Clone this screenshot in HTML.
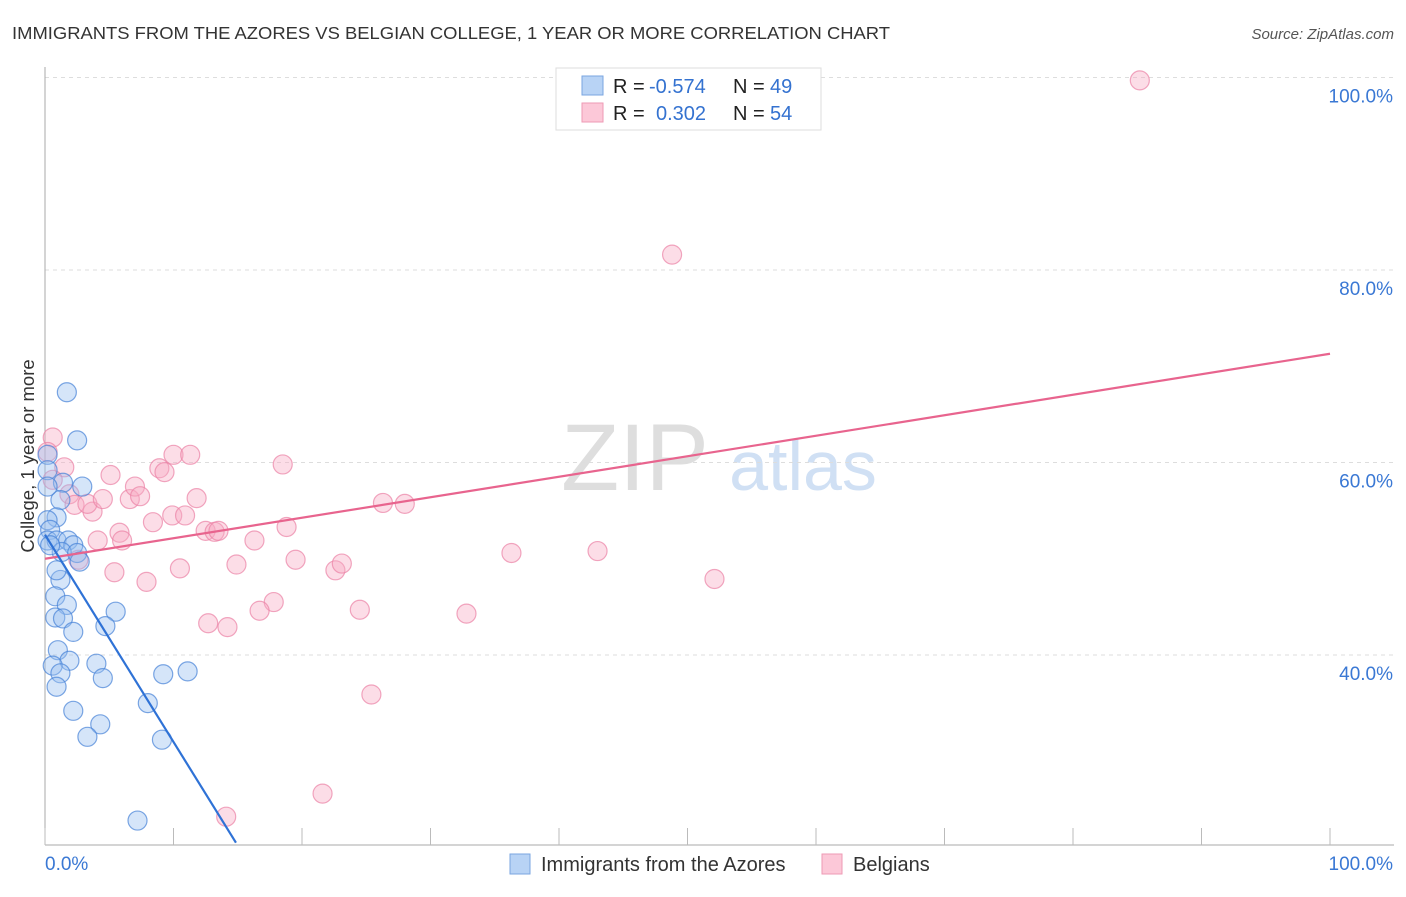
<!DOCTYPE html>
<html><head><meta charset="utf-8"><style>
body{margin:0;background:#fff;font-family:"Liberation Sans",sans-serif;}
svg text{font-family:"Liberation Sans",sans-serif;}
</style></head><body>
<svg id="chart" width="1406" height="892" viewBox="0 0 1406 892" xmlns="http://www.w3.org/2000/svg">
<text x="12" y="39" font-size="17.5" fill="#333" textLength="878" lengthAdjust="spacingAndGlyphs">IMMIGRANTS FROM THE AZORES VS BELGIAN COLLEGE, 1 YEAR OR MORE CORRELATION CHART</text>
<text x="1394" y="39" font-size="15" fill="#555" font-style="italic" text-anchor="end">Source: ZipAtlas.com</text>
<g>
<text x="635" y="490" font-size="95" fill="#dedede" font-family="Liberation Serif" text-anchor="middle">ZIP</text>
<text x="803" y="490" font-size="70" fill="#d0e0f4" text-anchor="middle">atlas</text>
</g>
<g id="grid"></g>
<g id="axes"></g>
<g id="points"></g>
<g id="lines"></g>
<text transform="translate(34,456) rotate(-90)" font-size="18.5" fill="#333" text-anchor="middle">College, 1 year or more</text>
<g>
<rect x="556" y="68" width="265" height="62" fill="#fff" stroke="#ddd"/>
<rect x="582" y="76" width="21" height="19" fill="#b8d3f5" stroke="#7aa6e0"/>
<rect x="582" y="103" width="21" height="19" fill="#fcc8d8" stroke="#ee9ab4"/>
<text x="613" y="93" font-size="20" fill="#222">R = </text><text x="649" y="93" font-size="20" fill="#3472d0">-0.574</text>
<text x="733" y="93" font-size="20" fill="#222">N = </text><text x="770" y="93" font-size="20" fill="#3472d0">49</text>
<text x="613" y="120" font-size="20" fill="#222">R = </text><text x="656" y="120" font-size="20" fill="#3472d0">0.302</text>
<text x="733" y="120" font-size="20" fill="#222">N = </text><text x="770" y="120" font-size="20" fill="#3472d0">54</text>
</g>
<g>
<rect x="510" y="854" width="20" height="20" fill="#b8d3f5" stroke="#7aa6e0"/>
<text x="541" y="871" font-size="20" fill="#333">Immigrants from the Azores</text>
<rect x="822" y="854" width="20" height="20" fill="#fcc8d8" stroke="#ee9ab4"/>
<text x="853" y="871" font-size="20" fill="#333">Belgians</text>
</g>
</svg>
<script>
const yTicks=[40,60,80,100];
const xTickLabels=["0.0%","100.0%"];
const blueX=[1.7,2.5,0.2,0.2,1.4,2.9,1.2,0.2,0.9,0.2,0.4,0.2,0.9,1.8,2.2,1.3,2.5,2.7,1.2,0.8,1.7,0.8,1.4,2.2,5.5,4.7,1.0,1.9,4.0,0.6,1.2,4.5,9.2,11.1,0.9,8.0,2.2,4.3,3.3,9.1,7.2,0.4,0.9];
const blueY=[67.3,62.3,60.8,59.2,57.9,57.5,56.1,57.5,54.3,54.0,53.0,51.9,51.9,51.9,51.4,50.7,50.6,49.7,47.8,46.1,45.2,43.9,43.8,42.4,44.5,43.0,40.5,39.4,39.1,38.9,38.1,37.6,38.0,38.3,36.7,35.0,34.2,32.8,31.5,31.2,22.8,51.4,48.8];
const pinkX=[85.2,48.8,0.6,0.2,1.5,0.6,1.9,2.3,3.7,3.3,4.5,5.1,6.6,7.0,7.4,8.9,9.3,10.0,11.3,11.8,8.4,9.9,10.9,12.5,13.2,13.5,5.8,6.0,4.1,16.3,18.5,18.8,14.9,10.5,7.9,5.4,19.5,22.6,23.1,36.3,43.0,52.1,26.3,28.0,17.8,16.7,12.7,14.2,24.5,32.8,25.4,21.6,14.1,2.6];
const pinkY=[99.7,81.6,62.6,61.1,59.5,58.2,56.7,55.6,54.9,55.7,56.2,58.7,56.2,57.5,56.5,59.4,59.0,60.8,60.8,56.3,53.8,54.5,54.5,52.9,52.8,52.9,52.7,51.9,51.9,51.9,59.8,53.3,49.4,49.0,47.6,48.6,49.9,48.8,49.5,50.6,50.8,47.9,55.8,55.7,45.5,44.6,43.3,42.9,44.7,44.3,35.9,25.6,23.2,49.9];
const blueLine=[[0,52.5],[14.86,20.5]];
const pinkLine=[[0,50.0],[100,71.3]];
const NS="http://www.w3.org/2000/svg";
const sx=v=>45+v*12.85;
const sy=v=>1040-v*9.625;
function mk(t,a,p){const e=document.createElementNS(NS,t);for(const k in a)e.setAttribute(k,a[k]);document.getElementById(p).appendChild(e);return e;}
yTicks.forEach(t=>{
 const l=mk('line',{x1:45,x2:1394,y1:sy(t),y2:sy(t),stroke:'#ddd','stroke-dasharray':'4,4'},'grid');
 
 
 const tx=mk('text',{x:1393,y:sy(t)+25,'font-size':19,fill:'#3a78d4','text-anchor':'end'},'grid');
 tx.textContent=t.toFixed(1)+'%';
 
 
});
const ya=mk('line',{x1:45,x2:45,y1:67,y2:845,stroke:'#aaa'},'axes');


const xa=mk('line',{x1:45,x2:1394,y1:845,y2:845,stroke:'#aaa'},'axes');


for(let i=0;i<=10;i++){const tk=mk('line',{x1:sx(i*10),x2:sx(i*10),y1:828,y2:845,stroke:'#bbb'},'axes');
 
 }
const xl0=mk('text',{x:45,y:870,'font-size':19,fill:'#3a78d4'},'axes');xl0.textContent=xTickLabels[0];


const xl1=mk('text',{x:1393,y:870,'font-size':19,fill:'#3a78d4','text-anchor':'end'},'axes');xl1.textContent=xTickLabels[1];


pinkX.forEach((x,i)=>{const c=mk('circle',{cx:sx(x),cy:sy(pinkY[i]),r:9.5,fill:'rgba(248,170,195,0.4)',stroke:'rgba(235,130,165,0.7)','stroke-width':1.2},'points');
 
 });
blueX.forEach((x,i)=>{const c=mk('circle',{cx:sx(x),cy:sy(blueY[i]),r:9.5,fill:'rgba(150,190,240,0.4)',stroke:'rgba(70,130,215,0.7)','stroke-width':1.2},'points');
 
 });
const pl=mk('line',{x1:sx(pinkLine[0][0]),y1:sy(pinkLine[0][1]),x2:sx(pinkLine[1][0]),y2:sy(pinkLine[1][1]),stroke:'#e8648e','stroke-width':2.2},'lines');


const bl=mk('line',{x1:sx(blueLine[0][0]),y1:sy(blueLine[0][1]),x2:sx(blueLine[1][0]),y2:sy(blueLine[1][1]),stroke:'#2f72d6','stroke-width':2.2},'lines');


</script>
</body></html>
